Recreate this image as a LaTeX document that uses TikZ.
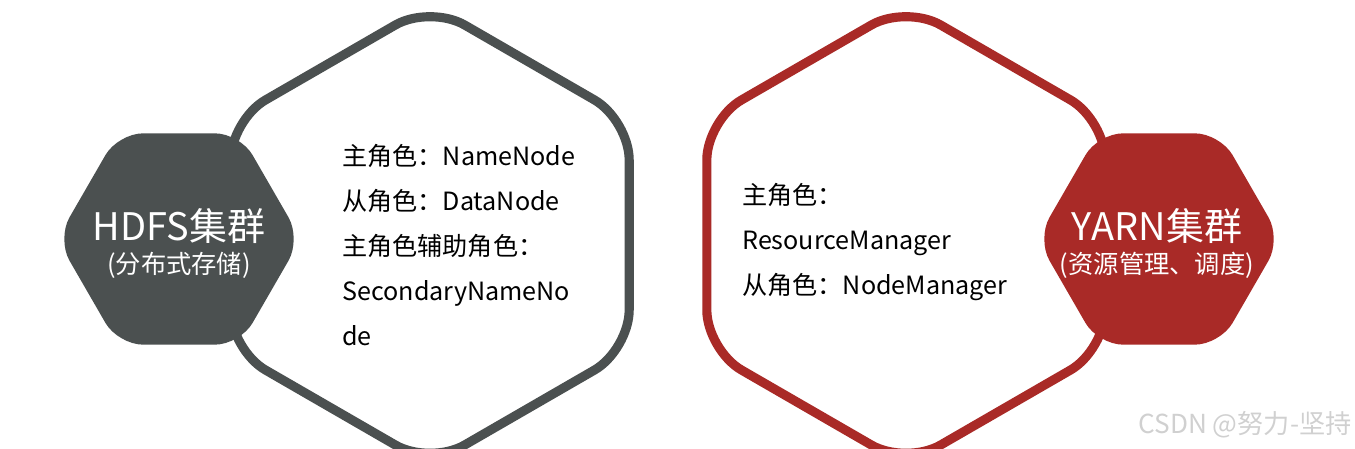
\documentclass[tikz,border=0pt]{standalone}
\usepackage{fontspec}
\setmainfont{Noto Sans CJK SC}
\usepackage{xcolor}
\definecolor{cHdfs}{HTML}{4B5050}
\definecolor{cYarn}{HTML}{A92A27}
\definecolor{cMark}{HTML}{D0D0D0}
\usepackage{tikz}
\tikzset{
  hex-ring/.style={line width=5.2pt,rounded corners=0.8cm,fill=white},
  hex-core/.style={rounded corners=0.5cm},
  role-text/.style={anchor=west,align=left,inner sep=0pt,
    font=\fontsize{14.3}{25.6}\selectfont},
  title-big/.style={text=white,font=\fontsize{21.6}{23}\selectfont},
  title-sub/.style={text=white,font=\fontsize{14.4}{16}\selectfont},
}
% pointy-top ring and flat-top core, centre and radius in px
\newcommand\ringhex[3]{\draw[hex-ring,draw=#3] (#1) +(90:#2) -- +(30:#2) -- +(-30:#2)
  -- +(-90:#2) -- +(-150:#2) -- +(150:#2) -- cycle;}
\newcommand\corehex[3]{\fill[hex-core,#3] (#1) +(0:#2) -- +(60:#2) -- +(120:#2)
  -- +(180:#2) -- +(240:#2) -- +(300:#2) -- cycle;}
\begin{document}
\begin{tikzpicture}[x=0.02cm,y=-0.02cm]
  \useasboundingbox (0,0) rectangle (1355,449);
  \clip (0,0) rectangle (1355,449);
  \coordinate (hdfs-c) at (430,235);
  \coordinate (hdfs) at (179,239);
  \coordinate (yarn-c) at (906,235);
  \coordinate (yarn) at (1159,239);
  % HDFS
  \ringhex{hdfs-c}{230}{cHdfs}
  \corehex{hdfs}{122}{cHdfs}
  \node[title-big] (hdfs-name) at (179,226) {HDFS集群};
  \node[title-sub] (hdfs-sub) at (179,265) {(分布式存储)};
  \node[role-text] (hdfs-roles) at (342,245)
    {主角色：NameNode\\从角色：DataNode\\主角色辅助角色：\\SecondaryNameNo\\de};
  % YARN
  \ringhex{yarn-c}{230}{cYarn}
  \corehex{yarn}{122}{cYarn}
  \node[title-big] (yarn-name) at (1157,226) {YARN集群};
  \node[title-sub] (yarn-sub) at (1157,265) {(资源管理、调度)};
  \node[role-text] (yarn-roles) at (742,242)
    {主角色：\\ResourceManager\\从角色：NodeManager};
  \node[text=cMark,font=\fontsize{14.9}{16}\selectfont] (mark) at (1245,425) {CSDN @努力-坚持};
\end{tikzpicture}
\end{document}
